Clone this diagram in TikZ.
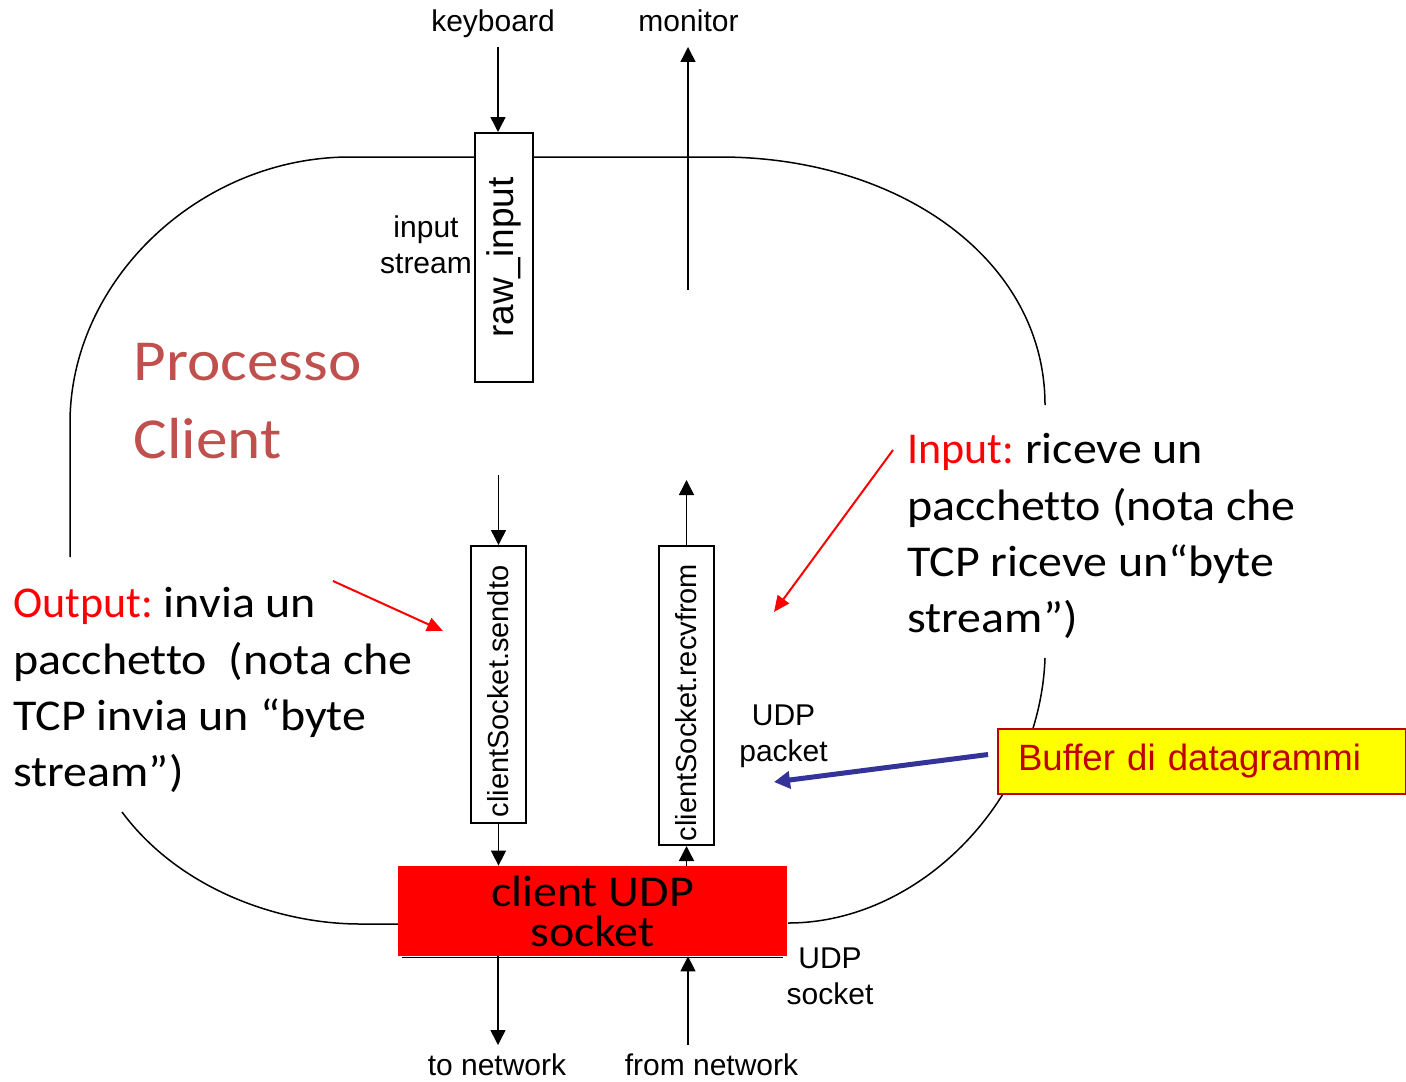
\documentclass[tikz,border=0pt]{standalone}
\usepackage{fontspec}
\setmainfont{Liberation Sans}
\newfontfamily\calib{Carlito}[FakeStretch=1.09,Ligatures=NoCommon]
\newfontfamily\calibn{Carlito}[Ligatures=NoCommon]
\usetikzlibrary{arrows.meta}
\definecolor{procred}{HTML}{C0504D}
\definecolor{pured}{HTML}{FF0000}
\definecolor{bufred}{HTML}{C00000}
\definecolor{bufyel}{HTML}{FFFF00}
\definecolor{arrblue}{HTML}{333399}
\frenchspacing
\begin{document}
\begin{tikzpicture}[x=0.5pt,y=-0.5pt,
  outline/.style={line width=0.75pt},
  arr/.style={line width=0.75pt,-{Triangle[length=7.5pt,width=7.5pt]}},
  redarr/.style={draw=pured,line width=1pt,-{Triangle[length=8pt,width=7pt]}},
  bluearr/.style={draw=arrblue,line width=2.5pt,-{Triangle[length=8pt,width=8.5pt]}},
  vbox/.style={draw,fill=white,line width=1pt,rotate=90,inner sep=0,minimum height=27.5pt,font=\fontsize{14.5}{17}\selectfont},
  lbl/.style={inner sep=0,font=\fontsize{15}{18}\selectfont},
  calout/.style={anchor=north west,inner sep=0,align=left,font=\calib\fontsize{22}{28.2}\selectfont\frenchspacing}]
\useasboundingbox (0,0) rectangle (1406,1081);
% process outline
\draw[outline] (70,557) -- (70,423) .. controls (70,280) and (200,157) .. (350,157) -- (720,157) .. controls (900,157) and (1045,260) .. (1045,405);
\draw[outline] (122,812) .. controls (180,890) and (280,924) .. (360,924) -- (398,924);
\draw[outline] (788,923) .. controls (920,923) and (1040,800) .. (1045,658);
% nodes
\node[draw,fill=white,line width=1pt,rotate=90,inner sep=0,minimum width=124.5pt,minimum height=29pt,font=\fontsize{18.5}{20}\selectfont] (raw) at (504,257.5) {raw\_input};
\node[vbox,minimum width=138.5pt] (send) at (498.5,684.5) {clientSocket.sendto\hspace*{7pt}};
\node[vbox,minimum width=149.5pt] (recv) at (686.5,695.5) {clientSocket.recvfrom\hspace*{7pt}};
\node[fill=pured,inner sep=0,minimum width=194.5pt,minimum height=45pt,align=center,font=\calib\fontsize{22}{20}\selectfont] (sock) at (592.5,911) {client UDP\\socket};
\node[draw=bufred,fill=bufyel,line width=1pt,anchor=west,minimum height=32.5pt,inner xsep=10pt,text width=184pt,align=left,text=bufred,font=\fontsize{18.3}{20}\selectfont] (buf) at (997,761.5) {Buffer di datagrammi};
\node[anchor=north west,inner sep=0,align=left,text=procred,font=\calib\fontsize{29}{39}\selectfont] (proc) at (133,343) {Processo\\Client};
\node[calout] (outtxt) at (13,587) {{\calibn\textcolor{pured}{Output:}} invia un\\pacchetto\ \ (nota che\\TCP invia un “byte\\stream”)};
\node[calout] (intxt) at (907,433) {{\calibn\textcolor{pured}{Input:}} riceve un\\pacchetto (nota che\\TCP riceve un“byte\\stream”)};
\node[lbl,anchor=base] (kbd) at (493,32) {keyboard};
\node[lbl,anchor=base] (mon) at (688.5,32) {monitor};
\node[lbl,anchor=north,align=center] (instr) at (426,215) {input\\stream};
\node[lbl,anchor=north,align=center] (udppk) at (783.5,704) {UDP\\packet};
\node[lbl,anchor=north,align=center] (udpsk) at (830,947) {UDP\\socket};
\node[lbl,anchor=base] (tonetl) at (497,1075) {to network};
\node[lbl,anchor=base] (fromnetl) at (711.5,1075) {from network};
% free ends
\coordinate (kbdtop) at (498,47);
\coordinate (montip) at (688,47);
\coordinate (monbot) at (688,290);
\coordinate (sendtop) at (498.5,475);
\coordinate (recvtip) at (686.5,480);
\coordinate (tonet) at (498,1045);
\coordinate (fromnet) at (688,1045);
\coordinate (outtail) at (333,581);
\coordinate (outtip) at (443,631);
\coordinate (intail) at (893,450);
\coordinate (intip) at (774,612);
\coordinate (buftip) at (774,782);
% connectors
\draw[arr] (kbdtop) -- (kbdtop |- raw.east);
\draw[arr] (monbot) -- (montip);
\draw[arr] (sendtop) -- (send.east);
\draw[arr] (recv.east) -- (recvtip);
\draw[arr] (send.west) -- (send.west |- sock.north);
\draw[arr] (sock.north -| recv.west) -- (recv.west);
\draw[arr] (sock.south -| tonet) -- (tonet);
\draw[arr] (fromnet) -- (fromnet |- sock.south);
\draw[line width=0.75pt] ([xshift=2pt,yshift=-0.5pt]sock.south west) -- ([xshift=-2pt,yshift=-0.5pt]sock.south east);
\draw[redarr] (outtail) -- (outtip);
\draw[redarr] (intail) -- (intip);
\draw[bluearr] ([xshift=-4.5pt,yshift=3.5pt]buf.west) -- (buftip);
\end{tikzpicture}
\end{document}
